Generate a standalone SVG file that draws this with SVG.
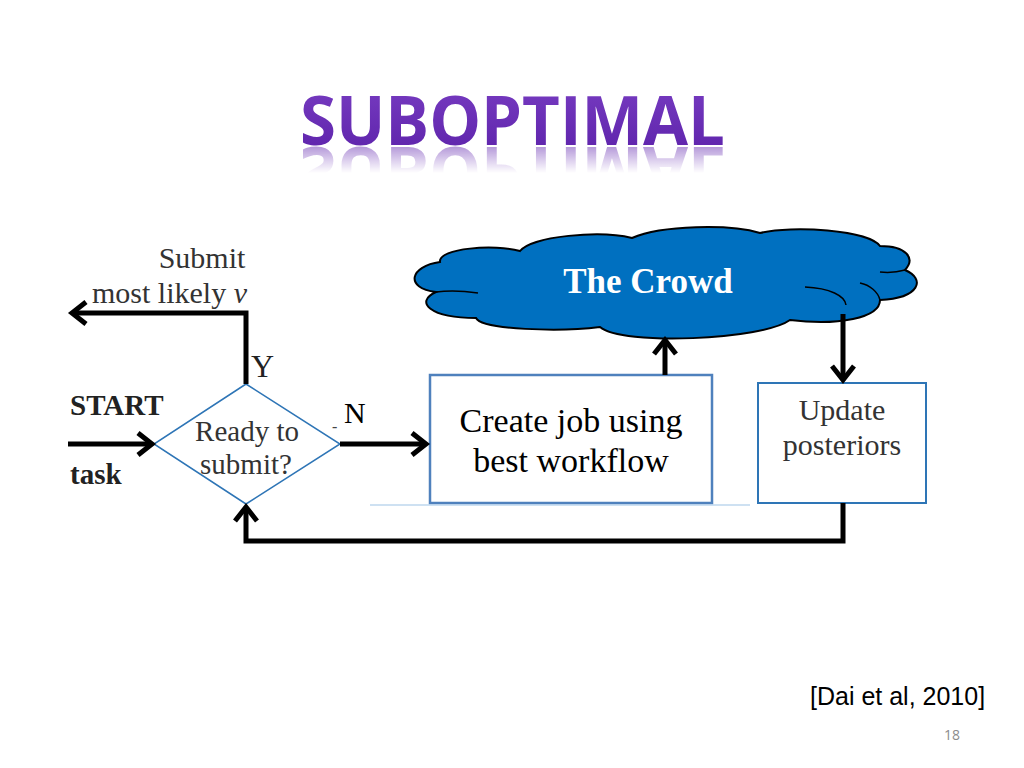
<svg xmlns="http://www.w3.org/2000/svg" xmlns:xlink="http://www.w3.org/1999/xlink" width="1024" height="768" viewBox="0 0 1024 768">
<defs>
<style>
.serif{font-family:"Liberation Serif","Times New Roman",serif}
.conn{fill:none;stroke:#000;stroke-width:5;stroke-linejoin:miter}
.gray{fill:#333}
</style>
<marker id="chev" markerUnits="userSpaceOnUse" viewBox="-20 -16 24 32" markerWidth="24" markerHeight="32" refX="0" refY="0" orient="auto" overflow="visible">
<path d="M -14 -11 L 0 0 L -14 11" fill="none" stroke="#000" stroke-width="5"/>
</marker>
<linearGradient id="tg" x1="0" y1="0" x2="0" y2="1">
<stop offset="0" stop-color="#7B3FC4"/>
<stop offset="1" stop-color="#5A20A8"/>
</linearGradient>
<linearGradient id="fade" x1="0" y1="0" x2="0" y2="1">
<stop offset="0" stop-color="#fff" stop-opacity="0.5"/>
<stop offset="0.7" stop-color="#fff" stop-opacity="0"/>
</linearGradient>
<mask id="rm" maskUnits="userSpaceOnUse" x="0" y="140" width="1024" height="50">
<rect x="0" y="145" width="1024" height="40" fill="url(#fade)"/>
</mask>
</defs>
<rect width="1024" height="768" fill="#fff"/>

<g id="title">
<text id="titleText" x="300" y="145" font-family="'Open Sans','Noto Sans',sans-serif" font-weight="bold" font-size="68" fill="url(#tg)" textLength="425" lengthAdjust="spacingAndGlyphs">SUBOPTIMAL</text>
<g mask="url(#rm)">
<use xlink:href="#titleText" transform="translate(0,292) scale(1,-1)"/>
</g>
</g>

<g id="crowd">
<path d="M 440 262 C 438 248 495 244 520 251 C 532 236 600 230 632 238 C 662 225 730 224 760 233 C 792 225 868 230 880 246 C 906 246 916 258 905 270 C 926 279 920 298 880 300 C 880 318 838 326 790 320 C 762 340 622 346 600 327 C 560 332 482 330 476 318 C 430 318 414 302 436 292 C 404 288 410 266 440 262 Z" fill="#0070C0" stroke="#000" stroke-width="2"/>
<path d="M 436 292 C 450 290 465 291 478 293" fill="none" stroke="#000" stroke-width="1.5"/>
<path d="M 805 287 C 830 288 845 296 846 305" fill="none" stroke="#000" stroke-width="1.5"/>
<path d="M 880 300 C 878 292 870 285 860 283" fill="none" stroke="#000" stroke-width="1.5"/>
<path d="M 905 270 C 898 272 890 273 880 272" fill="none" stroke="#000" stroke-width="1.5"/>
<text class="serif" x="648" y="293" font-size="35" font-weight="bold" fill="#fff" text-anchor="middle">The Crowd</text>
</g>

<g id="decision">
<polygon points="246,384 340,444 246,504 154,444" fill="#fff" stroke="#2E75B6" stroke-width="1.5"/>
<text class="serif gray" x="247" y="441" font-size="29" text-anchor="middle">Ready to</text>
<text class="serif gray" x="246" y="474" font-size="29" text-anchor="middle">submit?</text>
</g>

<g id="createJob">
<rect x="430" y="375" width="282" height="128" fill="#fff" stroke="#4F81BD" stroke-width="2.5"/>
<text class="serif" x="571" y="432" font-size="34" text-anchor="middle">Create job using</text>
<text class="serif" x="571" y="472" font-size="34" text-anchor="middle">best workflow</text>
</g>

<g id="update">
<rect x="758" y="383" width="168" height="120" fill="#fff" stroke="#2E75B6" stroke-width="2"/>
<text class="serif gray" x="842" y="420" font-size="30" text-anchor="middle">Update</text>
<text class="serif gray" x="842" y="455" font-size="30" text-anchor="middle">posteriors</text>
</g>

<g id="connectors">
<line x1="370" y1="505" x2="750" y2="505" stroke="#9DC3E6" stroke-width="1.2"/>
<polyline class="conn" points="246,384 246,313 72,313" marker-end="url(#chev)"/>
<line class="conn" x1="68" y1="444" x2="152" y2="444" marker-end="url(#chev)"/>
<line class="conn" x1="340" y1="444" x2="426" y2="444" marker-end="url(#chev)"/>
<line class="conn" x1="665" y1="375" x2="665" y2="340" marker-end="url(#chev)"/>
<line class="conn" x1="843" y1="314" x2="843" y2="380" marker-end="url(#chev)"/>
<polyline class="conn" points="843,503 843,541 246,541 246,507" marker-end="url(#chev)"/>
</g>

<g id="labels">
<text class="serif gray" x="202" y="268" font-size="30" text-anchor="middle">Submit</text>
<text class="serif gray" x="92" y="303" font-size="30">most likely <tspan font-style="italic">v</tspan></text>
<text class="serif" x="251" y="377" font-size="32" fill="#222">Y</text>
<text class="serif" x="70" y="415" font-size="29" font-weight="bold" fill="#222">START</text>
<text class="serif" x="70" y="484" font-size="29" font-weight="bold" fill="#222">task</text>
<text class="serif" x="332" y="432" font-size="16" fill="#444">-</text>
<text class="serif" x="344" y="423" font-size="30">N</text>
</g>

<g id="footer">
<text x="810" y="705" font-family="'Liberation Sans',Arial,sans-serif" font-size="25" fill="#000">[Dai et al, 2010]</text>
<text x="944" y="740" font-family="'Open Sans','Noto Sans',sans-serif" font-size="14" fill="#8C8C8C">18</text>
</g>
</svg>
